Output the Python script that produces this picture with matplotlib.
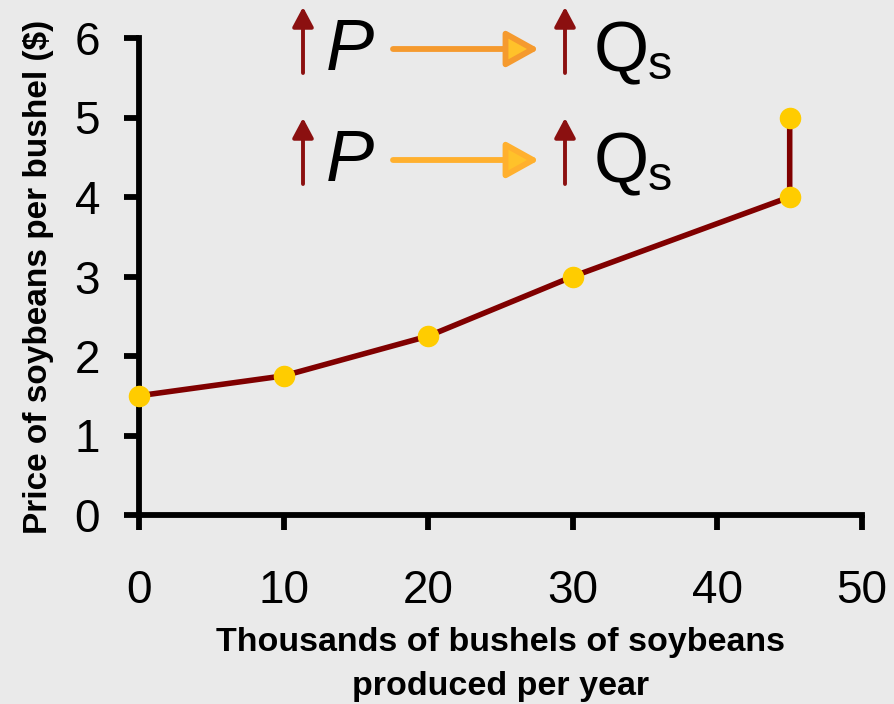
import matplotlib.pyplot as plt
from matplotlib.patches import FancyArrowPatch

# supply curve points (thousands of bushels, $ per bushel)
quantity = [0, 10, 20, 30, 45, 45]
price = [1.5, 1.75, 2.25, 3.0, 4.0, 5.0]

x_ticks = [0, 10, 20, 30, 40, 50]
y_ticks = [0, 1, 2, 3, 4, 5, 6]

plt.rcParams['font.family'] = ['Liberation Sans', 'DejaVu Sans']

BG = '#eaeaea'
LINE = '#800000'
DOT = '#ffcc00'

fig = plt.figure(figsize=(8.94, 7.04), dpi=100, facecolor=BG)
ax = fig.add_axes([139 / 894, 1 - 515 / 704, (862 - 139) / 894, (515 - 38) / 704])
ax.set_facecolor('none')

ax.plot(quantity, price, color=LINE, linewidth=4, zorder=3, clip_on=False)
ax.plot(quantity, price, linestyle='none', marker='o', markersize=14.5,
        color=DOT, zorder=4, clip_on=False)

ax.set_xlim(0, 50)
ax.set_ylim(0, 6)
ax.set_xticks(x_ticks)
ax.set_yticks(y_ticks)
for side in ['top', 'right']:
    ax.spines[side].set_visible(False)
for side in ['left', 'bottom']:
    ax.spines[side].set_linewidth(4.2)
ax.tick_params(axis='both', direction='out', length=11, width=4.2, colors='black')
ax.tick_params(axis='y', labelsize=33, pad=17)
ax.tick_params(axis='x', labelsize=33, pad=28)

ax.set_xlabel('Thousands of bushels of soybeans\nproduced per year', fontsize=24.5,
              fontweight='bold', linespacing=1.55, labelpad=10)
ax.set_ylabel('Price of soybeans per bushel ($)', fontsize=24, fontweight='bold', labelpad=15)


# the "price up -> quantity supplied up" annotation rows
def fx(px):
    return px / 894


def fy(py):
    return 1 - py / 704


rows = [(49, '#f59a2e'), (160, '#ffb02e')]
for ymid, shaft in rows:
    for xa in [303, 565]:
        fig.add_artist(FancyArrowPatch(
            (fx(xa), fy(ymid + 24)), (fx(xa), fy(ymid - 42)), transform=fig.transFigure,
            arrowstyle='-|>,head_length=6,head_width=3.2', color='#8b1010', linewidth=2.8,
            mutation_scale=2, shrinkA=0, shrinkB=0))
    fig.add_artist(FancyArrowPatch(
        (fx(393), fy(ymid)), (fx(539), fy(ymid)), transform=fig.transFigure,
        arrowstyle='-|>,head_length=9,head_width=5', facecolor='#ffc22a', edgecolor=shaft,
        linewidth=4.2, mutation_scale=2.2, shrinkA=0, shrinkB=0))
    fig.text(fx(326), fy(ymid + 21), 'P', fontsize=52, style='italic', ha='left', va='baseline')
    fig.text(fx(594), fy(ymid + 22), 'Q', fontsize=51, ha='left', va='baseline')
    fig.text(fx(648), fy(ymid + 30), 's', fontsize=35, ha='left', va='baseline')

fig.savefig('out.png', dpi=100, facecolor=BG)
